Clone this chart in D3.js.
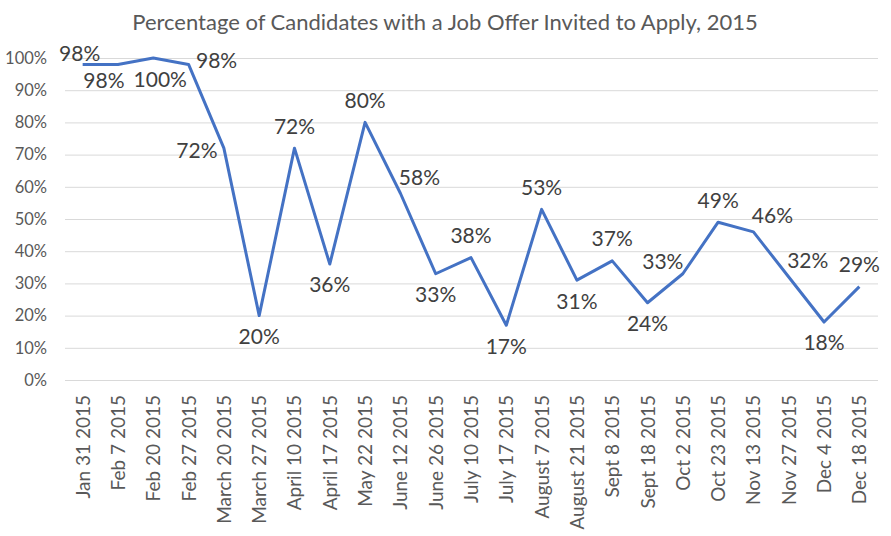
<!DOCTYPE html>
<html><head><meta charset="utf-8">
<script src="https://cdn.jsdelivr.net/npm/d3@7"></script>
<style>
html,body{margin:0;padding:0;background:#fff;}
svg{display:block;font-family:Lato,"Open Sans",sans-serif;}
</style></head>
<body><svg id="c" width="891" height="536"></svg>
<script>
const categories = ["Jan 31 2015","Feb 7 2015","Feb 20 2015","Feb 27 2015","March 20 2015","March 27 2015","April 10 2015","April 17 2015","May 22 2015","June 12 2015","June 26 2015","July 10 2015","July 17 2015","August 7 2015","August 21 2015","Sept 8 2015","Sept 18 2015","Oct 2 2015","Oct 23 2015","Nov 13 2015","Nov 27 2015","Dec 4 2015","Dec 18 2015"];
const values = [0.98,0.98,1.00,0.98,0.72,0.20,0.72,0.36,0.80,0.58,0.33,0.38,0.17,0.53,0.31,0.37,0.24,0.33,0.49,0.46,0.32,0.18,0.29];
const yTicks = [0,0.1,0.2,0.3,0.4,0.5,0.6,0.7,0.8,0.9,1.0];
const labelPlacement = ["ts","bl","br","r","l","b","t","b","t","tr","b","t","b","t","b","t","b","tl","t","tr","tr","b","t"];
const title = "Percentage of Candidates with a Job Offer Invited to Apply, 2015";

const svg = d3.select("#c");
const mLeft = 65, mRight = 877, mTop = 58, mBottom = 380;
const x = d3.scaleBand().domain(categories).range([mLeft, mRight]);
const y = d3.scaleLinear().domain([0, 1]).range([mBottom, mTop]);
const cx = d => x(d) + x.bandwidth() / 2;

svg.append("text").attr("x", 445).attr("y", 30).attr("text-anchor", "middle")
  .attr("fill", "#595959").attr("font-size", 22).text(title);

// gridlines
const yAxis = d3.axisLeft(y).tickValues(yTicks).tickFormat(d3.format(".0%"))
  .tickSize(-(mRight + 1 - mLeft)).tickPadding(18);
const gy = svg.append("g").attr("transform", `translate(${mLeft},0)`).call(yAxis);
gy.select(".domain").remove();
gy.selectAll(".tick line").attr("stroke", "#d9d9d9").attr("stroke-width", 1);
gy.selectAll(".tick text").attr("fill", "#595959").attr("font-size", 16.5).attr("font-family", "Lato");

// x axis labels
const xAxis = d3.axisBottom(x).tickSize(0).tickPadding(0);
const gx = svg.append("g").attr("transform", `translate(0,${mBottom})`).call(xAxis);
gx.select(".domain").remove();
gx.selectAll(".tick text").attr("fill", "#595959").attr("font-size", 19).attr("font-family", "Lato")
  .attr("text-anchor", "end").attr("dy", 0)
  .attr("transform", "translate(7,15) rotate(-90)");

// line
const line = d3.line().x((d, i) => cx(categories[i])).y(d => y(d));
svg.append("path").datum(values).attr("d", line).attr("fill", "none")
  .attr("stroke", "#4472C4").attr("stroke-width", 3).attr("stroke-linejoin", "round");

// data labels
const off = {t:[0,-22], b:[0,21], l:[-27,2], r:[28,-4], tr:[19,-16], tl:[-20,-12], ts:[-3,-11], bl:[-14,16], br:[7,22]};
svg.append("g").selectAll("text").data(values).join("text")
  .attr("x", (d, i) => cx(categories[i]) + off[labelPlacement[i]][0])
  .attr("y", (d, i) => y(d) + off[labelPlacement[i]][1])
  .attr("dy", "0.35em").attr("text-anchor", "middle")
  .attr("fill", "#404040").attr("font-size", 21).attr("font-family", "Lato")
  .text(d => d3.format(".0%")(d));
</script></body></html>
